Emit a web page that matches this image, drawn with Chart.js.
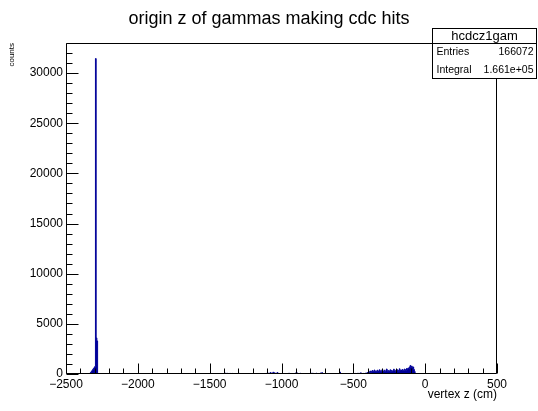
<!DOCTYPE html>
<html>
<head>
<meta charset="utf-8">
<script src="https://cdn.jsdelivr.net/npm/chart.js@4.4.1/dist/chart.umd.min.js"></script>
<style>
  html, body { margin: 0; padding: 0; background: #fff; }
  #wrap { width: 538px; height: 411px; }
</style>
</head>
<body>
<div id="wrap"><canvas id="c" width="538" height="411"></canvas></div>
<script>
// ---- histogram definition ----
const histName = "hcdcz1gam";
const histTitle = "origin z of gammas making cdc hits";
const xTitle = "vertex z (cm)";
const yTitle = "counts";
const xMin = -2500, xMax = 500, binWidth = 5;
const statsLabels = ["Entries", "Integral"];
const statsValues = ["166072", "1.661e+05"];
const xTickValues = [-2500, -2000, -1500, -1000, -500, 0, 500];
const yTickValues = [0, 5000, 10000, 15000, 20000, 25000, 30000];
const yMax = 33000;

// non-empty bins: low edge of bin (cm) and content
const binLowEdges = [
  -2335, -2330, -2325, -2320, -2315, -2310, -2305, -2300, -2295, -2290, -2285,
  -1395, -1390, -1380, -1370, -1360, -1345, -1330, -1315, -1295, -1235,
  -1100, -1095, -1080, -1070, -1060, -1050, -1040, -1030,
  -950, -905, -895, -870, -790, -780, -760, -730, -720, -595,
  -490, -470, -460, -450, -430, -415, -405,
  -400, -395, -390, -385, -380, -375, -370, -365, -360, -355,
  -350, -345, -340, -335, -330, -325, -320, -315, -310, -305,
  -300, -295, -290, -285, -280, -275, -270, -265, -260, -255,
  -250, -245, -240, -235, -230, -225, -220, -215, -210, -205,
  -200, -195, -190, -185, -180, -175, -170, -165, -160, -155,
  -150, -145, -140, -135, -130, -125, -120, -115, -110, -105,
  -100, -95, -90, -85, -80, -75
];
const binContents = [
  60, 150, 250, 350, 450, 550, 650, 750, 31450, 3600, 3300,
  60, 80, 70, 50, 60, 60, 40, 50, 60, 50,
  120, 80, 150, 100, 180, 120, 90, 150,
  80, 100, 120, 70, 90, 60, 80, 100, 140, 200,
  60, 80, 60, 120, 60, 100, 150,
  120, 200, 150, 300, 180, 250, 350, 200, 280, 400,
  220, 300, 260, 380, 200, 300, 420, 250, 330, 280,
  450, 300, 220, 380, 260, 320, 500, 280, 350, 240,
  300, 420, 280, 360, 250, 330, 480, 300, 260, 380,
  300, 420, 350, 280, 520, 330, 400, 300, 450, 380,
  330, 500, 420, 380, 550, 450, 600, 520, 700, 850,
  650, 780, 600, 700, 450, 250
];

// build stepped histogram outline from the bins
const contentByBin = new Map();
binLowEdges.forEach((e, i) => contentByBin.set(Math.round((e - xMin) / binWidth), binContents[i]));
const nBins = Math.round((xMax - xMin) / binWidth);
const histPoints = [];
for (let i = 0; i < nBins; i++) {
  histPoints.push({ x: xMin + i * binWidth, y: contentByBin.get(i) || 0 });
}
histPoints.push({ x: xMax, y: 0 });

const FONT = "'Liberation Sans', Arial, Helvetica, sans-serif";
const minus = v => String(v).replace('-', '\u2212');

const rootFrame = {
  id: 'rootFrame',
  afterDatasetsDraw(chart) {
    const { ctx, chartArea: a, scales: { x, y } } = chart;
    ctx.save();
    ctx.strokeStyle = '#000';
    ctx.lineWidth = 1;
    ctx.beginPath();
    ctx.rect(Math.round(a.left) + 0.5, Math.round(a.top) + 0.5,
             Math.round(a.right - a.left) - 1, Math.round(a.bottom - a.top) - 1);
    ctx.stroke();
    // x ticks (inward)
    ctx.beginPath();
    const yb = Math.round(a.bottom) - 0.5;
    for (let v = xMin; v <= xMax; v += 100) {
      const len = (v % 500 === 0) ? 10 : 5;
      const px = Math.round(x.getPixelForValue(v)) + 0.5;
      ctx.moveTo(px, yb);
      ctx.lineTo(px, yb - len);
    }
    // y ticks (inward)
    const xl = Math.round(a.left) + 0.5;
    for (let v = 0; v <= yMax; v += 1000) {
      const len = (v % 5000 === 0) ? 12 : 6;
      const py = Math.round(y.getPixelForValue(v)) + 0.5;
      ctx.moveTo(xl, py);
      ctx.lineTo(xl + len, py);
    }
    ctx.stroke();
    ctx.restore();
  },
  afterDraw(chart) {
    const { ctx } = chart;
    ctx.save();
    const bx = 432.5, by = 28.5, bw = 104, bh = 50, hh = 15;
    ctx.fillStyle = '#fff';
    ctx.fillRect(bx, by, bw, bh);
    ctx.strokeStyle = '#000';
    ctx.lineWidth = 1;
    ctx.strokeRect(bx, by, bw, bh);
    ctx.beginPath();
    ctx.moveTo(bx, by + hh);
    ctx.lineTo(bx + bw, by + hh);
    ctx.stroke();
    ctx.fillStyle = '#000';
    ctx.textBaseline = 'middle';
    ctx.font = '13px ' + FONT;
    ctx.textAlign = 'center';
    ctx.fillText(histName, bx + bw / 2, by + 7.5);
    ctx.font = '10.5px ' + FONT;
    statsLabels.forEach((lab, i) => {
      const ty = by + hh + 9 + i * 18;
      ctx.textAlign = 'left';
      ctx.fillText(lab, bx + 4, ty);
      ctx.textAlign = 'right';
      ctx.fillText(statsValues[i], bx + bw - 3, ty);
    });
    ctx.restore();
  }
};

new Chart(document.getElementById('c'), {
  type: 'line',
  data: {
    datasets: [{
      data: histPoints,
      stepped: true,
      borderColor: '#000099',
      backgroundColor: '#000099',
      borderWidth: 1,
      pointRadius: 0,
      fill: 'origin',
      tension: 0,
      yAxisID: 'y'
    }]
  },
  options: {
    responsive: false,
    animation: false,
    events: [],
    layout: { padding: 0 },
    plugins: {
      legend: { display: false },
      tooltip: { enabled: false },
      filler: { drawTime: 'beforeDatasetDraw' },
      title: {
        display: true,
        text: histTitle,
        color: '#000',
        font: { family: FONT, size: 18, weight: 'normal', lineHeight: 1.2 },
        padding: { top: 8, bottom: 13.4 }
      }
    },
    scales: {
      x: {
        type: 'linear',
        min: xMin, max: xMax,
        afterFit: s => { s.height = 37; },
        afterBuildTicks: s => { s.ticks = xTickValues.map(v => ({ value: v })); },
        grid: { display: false, drawTicks: false },
        border: { display: false },
        ticks: {
          color: '#000', padding: 3, maxRotation: 0, autoSkip: false,
          font: { family: FONT, size: 12 },
          callback: v => minus(v)
        },
        title: {
          display: true, text: xTitle, align: 'end', color: '#000',
          font: { family: FONT, size: 12, lineHeight: 1.2 },
          padding: { top: 0, bottom: 9 }
        }
      },
      y: {
        type: 'linear',
        position: 'left',
        min: 0, max: yMax,
        afterFit: s => { s.width = 66; },
        afterBuildTicks: s => { s.ticks = yTickValues.map(v => ({ value: v })); },
        grid: { display: false, drawTicks: false },
        border: { display: false },
        ticks: {
          color: '#000', padding: 3, autoSkip: false,
          font: { family: FONT, size: 12 },
          callback: v => String(v)
        },
        title: {
          display: true, text: yTitle, align: 'end', color: '#000',
          font: { family: FONT, size: 8, lineHeight: 1.2 },
          padding: { top: 7, bottom: 0 }
        }
      },
      yRight: {
        type: 'linear',
        position: 'right',
        min: 0, max: yMax,
        afterFit: s => { s.width = 41; },
        grid: { display: false, drawTicks: false },
        border: { display: false },
        ticks: { display: false }
      }
    }
  },
  plugins: [rootFrame]
});
</script>
</body>
</html>
